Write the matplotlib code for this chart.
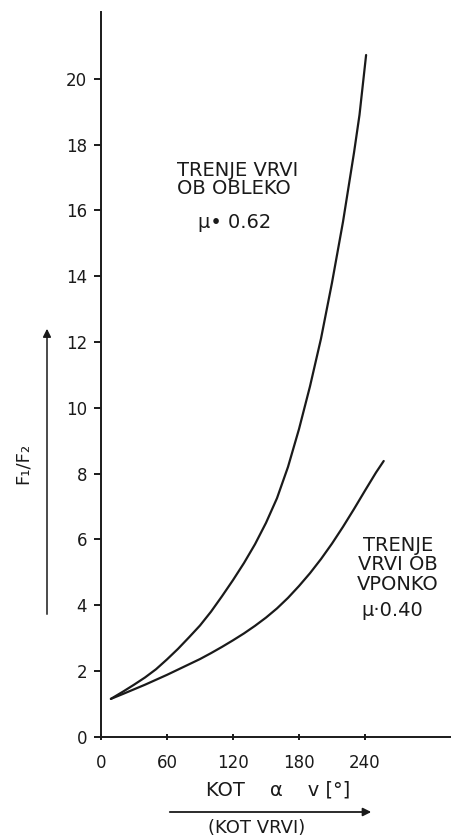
import matplotlib
matplotlib.use("Agg")
import matplotlib.pyplot as plt
from matplotlib.patches import FancyArrowPatch

# ---- data ----
angle_062 = [9, 20, 30, 40, 50, 60, 70, 80, 90, 100, 110, 120, 130, 140, 150,
             160, 170, 180, 190, 200, 210, 220, 230, 235, 241]
ratio_062 = [1.15, 1.37, 1.58, 1.80, 2.05, 2.35, 2.67, 3.02, 3.38, 3.80, 4.27, 4.76, 5.28, 5.85, 6.50,
             7.25, 8.20, 9.35, 10.65, 12.10, 13.80, 15.65, 17.75, 18.90, 20.72]

angle_040 = [9, 20, 30, 40, 50, 60, 70, 80, 90, 100, 110, 120, 130, 140, 150,
             160, 170, 180, 190, 200, 210, 220, 230, 240, 250, 257]
ratio_040 = [1.15, 1.30, 1.44, 1.58, 1.73, 1.88, 2.04, 2.20, 2.36, 2.54, 2.73, 2.93, 3.14, 3.37, 3.62,
             3.90, 4.22, 4.58, 4.97, 5.40, 5.87, 6.38, 6.92, 7.48, 8.03, 8.38]

x_ticks = [0, 60, 120, 180, 240]
y_ticks = [0, 2, 4, 6, 8, 10, 12, 14, 16, 18, 20]

label_upper = "TRENJE VRVI\nOB OBLEKO"
mu_upper = "μ• 0.62"
label_lower = "TRENJE\nVRVI OB\nVPONKO"
mu_lower = "μ·0.40"
x_label = "KOT    α    v [°]"
x_label2 = "(KOT VRVI)"
y_label = "F₁/F₂"

W, H = 451, 838
fig = plt.figure(figsize=(W / 100, H / 100), dpi=100)
fig.patch.set_facecolor("white")

def fx(px):
    return px / W

def fy(py):
    return 1 - py / H

left_px, right_px = 101, 451
top_px, bottom_px = 12, 736.7
ax = fig.add_axes([fx(left_px), fy(bottom_px), (right_px - left_px) / W, (bottom_px - top_px) / H])
ax.set_xlim(0, (right_px - left_px) / 1.1)
ax.set_ylim(0, (bottom_px - top_px) / 32.9)

ink = "#1a1a1a"
ax.plot(angle_062, ratio_062, color=ink, lw=1.6, solid_capstyle="round", solid_joinstyle="round")
ax.plot(angle_040, ratio_040, color=ink, lw=1.6, solid_capstyle="round", solid_joinstyle="round")

for s in ["top", "right"]:
    ax.spines[s].set_visible(False)
for s in ["left", "bottom"]:
    ax.spines[s].set_linewidth(1.4)
    ax.spines[s].set_color(ink)

tick_font = "DejaVu Sans"
ax.set_yticks(y_ticks)
ax.set_yticklabels([str(v) for v in y_ticks], fontsize=12, family=tick_font, color=ink)
ax.set_xticks(x_ticks)
ax.set_xticklabels([str(v) for v in x_ticks], fontsize=12, family=tick_font, color=ink)
ax.tick_params(axis="y", direction="out", length=5, width=1.4, pad=5, colors=ink)
ax.tick_params(axis="x", direction="inout", length=5, width=1.4, pad=10, colors=ink)

# annotations
kw = dict(color=ink, family="DejaVu Sans")
fig.text(fx(177), fy(179.5), label_upper, fontsize=14, ha="left", va="center",
         linespacing=1.0, **kw)
fig.text(fx(198), fy(222), mu_upper, fontsize=14, ha="left", va="center", **kw)
fig.text(fx(398), fy(565), label_lower, fontsize=14, ha="center", va="center",
         linespacing=1.02, **kw)
fig.text(fx(392), fy(610), mu_lower, fontsize=14, ha="center", va="center", **kw)

# y label with arrow
fig.text(fx(23), fy(463), y_label, fontsize=13, rotation=90, ha="center", va="center", **kw)
fig.add_artist(FancyArrowPatch(
    (fx(47), fy(617)), (fx(47), fy(326)), transform=fig.transFigure,
    arrowstyle="-|>", mutation_scale=12, lw=1.1, color=ink))

# x label with arrow
fig.text(fx(278), fy(790), x_label, fontsize=14, ha="center", va="center", **kw)
fig.add_artist(FancyArrowPatch(
    (fx(167), fy(812)), (fx(374), fy(812)), transform=fig.transFigure,
    arrowstyle="-|>", mutation_scale=12, lw=1.3, color=ink))
fig.text(fx(257), fy(828), x_label2, fontsize=13, ha="center", va="center", **kw)

fig.savefig("out.png", dpi=100, facecolor="white")
